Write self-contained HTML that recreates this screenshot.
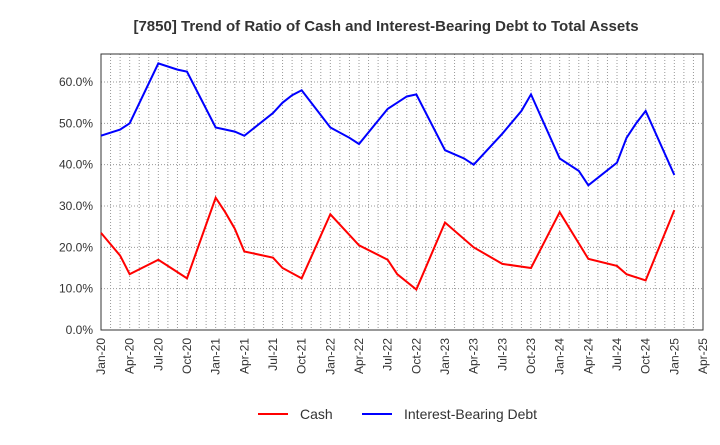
<!DOCTYPE html>
<html><head><meta charset="utf-8"><style>
body{margin:0;background:#fff;font-family:"Liberation Sans",sans-serif}
</style></head><body>
<svg width="720" height="440" xmlns="http://www.w3.org/2000/svg">
<text x="386" y="31" text-anchor="middle" font-size="15" font-weight="bold" fill="#333">[7850]  Trend of Ratio of Cash and Interest-Bearing Debt to Total Assets</text>
<g id="grid"></g><g id="axes"></g><g id="series"></g>
<g>
<line x1="258" y1="414" x2="288" y2="414" stroke="#f00" stroke-width="2"/>
<text x="300" y="419" font-size="14" fill="#333">Cash</text>
<line x1="362" y1="414" x2="392" y2="414" stroke="#00f" stroke-width="2"/>
<text x="404" y="419" font-size="14" fill="#333">Interest-Bearing Debt</text>
</g>
</svg>
<script>
const cashMonths=[0,2,3,6,8,9,12,13,14,15,18,19,21,24,27,30,31,33,36,39,42,45,48,51,54,55,57,60];
const cashValues=[23.5,18,13.5,17,14,12.5,32,28.5,24.5,19,17.5,15,12.5,28,20.5,17,13.5,9.8,26,20,16,15,28.5,17.2,15.5,13.5,12,29];
const debtMonths=[0,2,3,6,8,9,12,14,15,18,19,20,21,24,26,27,30,31,32,33,36,38,39,42,44,45,48,50,51,54,55,56,57,60];
const debtValues=[47,48.5,50,64.5,63,62.5,49,48,47,52.5,55,56.8,58,49,46.5,45,53.5,55,56.5,57,43.5,41.5,40,47.5,53,57,41.5,38.5,35,40.5,46.5,50,53,37.5];
const yTicks=[0,10,20,30,40,50,60];
const xLabels=["Jan-20","Apr-20","Jul-20","Oct-20","Jan-21","Apr-21","Jul-21","Oct-21","Jan-22","Apr-22","Jul-22","Oct-22","Jan-23","Apr-23","Jul-23","Oct-23","Jan-24","Apr-24","Jul-24","Oct-24","Jan-25","Apr-25"];
const L=101,R=703,T=54,B=330;
const xs=m=>L+(R-L)*m/63, ys=v=>B-(B-82)*v/60;
const ns="http://www.w3.org/2000/svg";
function mk(p,tag,a){const e=document.createElementNS(ns,tag);for(const k in a)e.setAttribute(k,a[k]);p.appendChild(e);return e;}
const g=document.getElementById('grid'),ax=document.getElementById('axes'),s=document.getElementById('series');
for(let m=1;m<=63;m++){const l=mk(g,'line',{x1:xs(m),x2:xs(m),y1:T,y2:B,stroke:'#999','stroke-dasharray':'1,2','stroke-width':1});

}
yTicks.forEach(v=>{const l=mk(g,'line',{x1:L,x2:R,y1:ys(v),y2:ys(v),stroke:'#999','stroke-dasharray':'1,2'});


const t=mk(ax,'text',{x:L-8,y:ys(v)+4,'text-anchor':'end','font-size':12,fill:'#333'});t.textContent=v.toFixed(1)+'%';

});
const fr=mk(ax,'rect',{x:L,y:T,width:R-L,height:B-T,fill:'none',stroke:'#333'});


xLabels.forEach((lb,i)=>{const x=xs(i*3),y=B+8;const t=mk(ax,'text',{x:x+4,y:y,'text-anchor':'end','font-size':12,fill:'#333',transform:`rotate(-90 ${x+4} ${y})`});t.textContent=lb;

});
function line(ms,vs,c,n){const p=mk(s,'polyline',{points:ms.map((m,i)=>xs(m)+','+ys(vs[i])).join(' '),fill:'none',stroke:c,'stroke-width':2});

}
line(cashMonths,cashValues,'#f00','cash-line');
line(debtMonths,debtValues,'#00f','debt-line');
</script>
</body></html>
